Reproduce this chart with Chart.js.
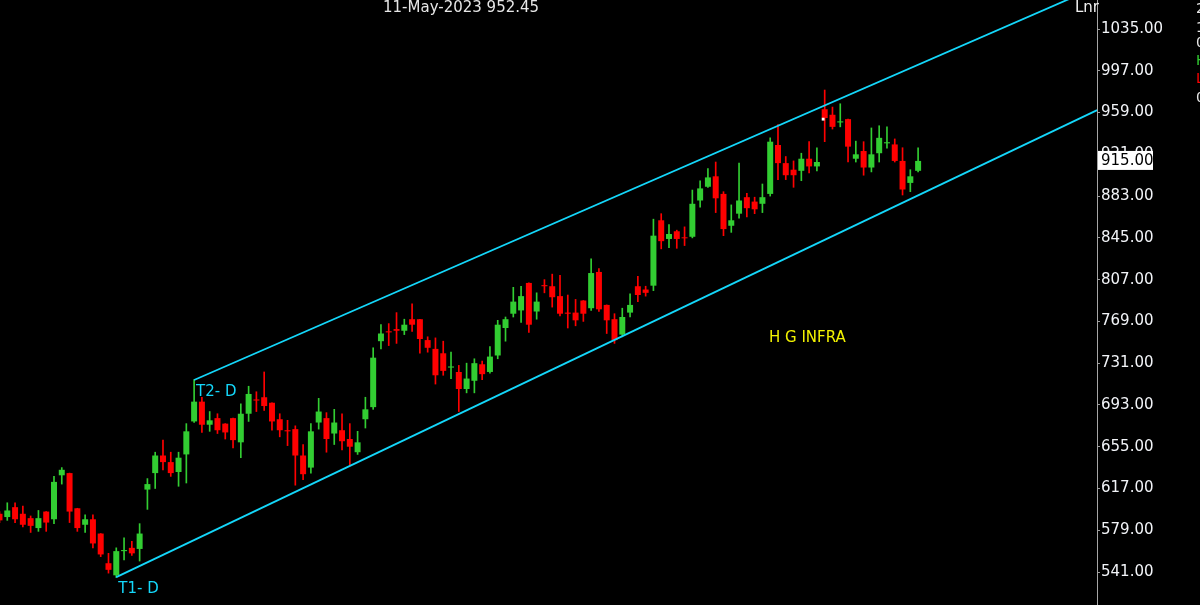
<!DOCTYPE html>
<html>
<head>
<meta charset="utf-8">
<script src="https://cdn.jsdelivr.net/npm/chart.js@4.4.0/dist/chart.umd.min.js"></script>
<style>
  html, body { margin: 0; padding: 0; background: #000; overflow: hidden; }
</style>
</head>
<body>
<canvas id="grafico" width="1200" height="605"></canvas>
<script>
// daily candles, oldest first
const opens  = [594,591,600,594,590,581,596,589,629,631,599,584,589,576,549,538,560,563,562,616,
                631,647,641,632,648,678,696,675,681,676,681,659,685,698,700,695,680,670,671,647,
                636,677,681,667,670,662,650,680,691,751,760,762,760.5,771,771,752,744,740,727,723,
                707.5,715,730,723,738,763,776,779,804,778,802,801,792,777,777,788,781,814,784,771,
                757,777,801,798,801.5,861,844,851,845.5,846,879,891.5,901,885,856,867,882,878,876,885,
                929.5,913,907,906,917,910,962,957,950,953,917,924,909,922,931,930,915,895,906];
const highs  = [596,604,604,601,592,597,596,628,636,631,599,593,593,576,558,563,572,569,585,626,
                650,661,650,650,676,716,700,687,685,676,681,694,710,705,723,695,685,679,674,657,
                676,699,686,689,685,676,669,700,745,766,767,777,771,785,771,755,754,751,741,729,
                731,735,733,746,770,773,800,801,804,795,807,812,811,793,789,788,826,817,784,776,
                781,794,810,801,862,867,857,852,855,888.5,897,908,914,887,875,913,885.5,882,894,936,
                948,919,915,922,932.5,927,979.5,964,967,953,933,932.5,945,947,946,935,927,907,927];
const lows   = [586,588,586,582,577,578,578,585,621,586,578,577,563,555,540,536,552,556,551,598,
                617,634,628,619,622,677,668,669,667,662,654,645,678,687,688,670,664,656,620,625,
                631,671,650,657,652,638,648,672,689,744,747,749,757,760,740,741,712,720,717,687,
                704,704,716,722,735,751,773,768,759,771,795,782,774,763,765,769,779,778,758,749,
                755,773,787,792,797,835,836,835.5,838,845,873,891,868,847,850,863,864,867,868,883,
                898,898,891,897,904,906,932.5,944,946,914,914,902,905,914,926.5,914,884,887,905];
const closes = [588,597,589,584,583,590,586,623,634,596,581,589,567,557,543,560,561,558,576,621,
                647,641,631,645,669,696,675,679,670,668,661,685,703,697,692,678,670,669,647,630,
                669,687,662,677,660,655,659,689,736,758,759,760.5,766,766,753,745,720,724,728,707.5,
                717,731,721,737,766,771,787,792,766,787,801,791,776,776,770,776,813,780,770,752,
                773,784,793,795,847,842,848.5,844,844.6,876,890,900,881,853,861,879,872,871,882,932.5,
                913,902,902,917,910,914,954,946,951,928,921,909,921,936,932,915,889,901,915];

// trend channel, drawn from the two touch points (T1 low, T2 high)
const upperLineX = [25, 141];
const upperLineY = [715.7, 1073.4];
const lowerLineX = [15, 141];
const lowerLineY = [536.4, 961.2];

// white marker near the top candle
const markerX = [105.8];
const markerY = [953];

const yTicks = [541, 579, 617, 655, 693, 731, 769, 807, 845, 883, 921, 959, 997, 1035];
const lastPrice = 915;

const VERDE = 'rgb(50,205,50)';
const VERMELHO = 'rgb(255,0,0)';
const CIANO = 'rgb(20,215,250)';

const indices = closes.map((_, i) => i);
const corCandle = ctx => {
    const i = ctx.dataIndex;
    return closes[i] >= opens[i] ? VERDE : VERMELHO;
};

const textos = {
    id: 'textos',
    afterDatasetsDraw(chart) {
        const c = chart.ctx;
        const sx = chart.scales.x, sy = chart.scales.y;
        c.save();
        c.font = '15px "DejaVu Sans"';
        c.textBaseline = 'alphabetic';
        c.textAlign = 'left';

        c.fillStyle = '#e6e6e6';
        c.fillText('11-May-2023 952.45', 383, 12);
        c.fillStyle = '#f0f0f0';
        c.fillText('Lnr', 1075, 12);

        c.fillStyle = CIANO;
        c.fillText('T2- D', sx.getPixelForValue(upperLineX[0]) + 2, sy.getPixelForValue(upperLineY[0]) + 16);
        c.fillText('T1- D', sx.getPixelForValue(lowerLineX[0]) + 2, sy.getPixelForValue(lowerLineY[0]) + 16);

        c.fillStyle = '#f2f200';
        c.fillText('H G INFRA', 769, 342);

        // last price box on the axis
        const yp = sy.getPixelForValue(lastPrice);
        c.fillStyle = '#ffffff';
        c.fillRect(1098, yp - 10, 55, 19);
        c.fillStyle = '#000000';
        c.textBaseline = 'middle';
        c.fillText(lastPrice.toFixed(2), 1101, yp + 0.5);

        // legend column cut off at the right edge
        c.font = '14px "DejaVu Sans"';
        c.textBaseline = 'alphabetic';
        const col = [['2', 13, '#e6e6e6'], ['1', 32, '#e6e6e6'], ['0', 47, '#e6e6e6'],
                     ['H', 65, VERDE], ['L', 83, VERMELHO], ['0', 102, '#e6e6e6']];
        col.forEach(([t, y, cor]) => { c.fillStyle = cor; c.fillText(t, 1196, y); });
        c.restore();
    }
};

Chart.defaults.font.family = '"DejaVu Sans", Verdana, sans-serif';

new Chart(document.getElementById('grafico').getContext('2d'), {
    type: 'bar',
    data: {
        datasets: [
            {
                label: 'pavio',
                data: indices.map(i => ({ x: i, y: [lows[i], highs[i]] })),
                backgroundColor: corCandle,
                barThickness: 1,
                grouped: false,
                order: 3
            },
            {
                label: 'corpo',
                data: indices.map(i => ({ x: i, y: [opens[i], closes[i]] })),
                backgroundColor: corCandle,
                categoryPercentage: 1,
                barPercentage: 0.77,
                minBarLength: 1,
                grouped: false,
                order: 2
            },
            {
                type: 'line',
                label: 'canal superior',
                data: upperLineX.map((x, k) => ({ x, y: upperLineY[k] })),
                borderColor: CIANO,
                borderWidth: 1.8,
                pointRadius: 0,
                fill: false,
                order: 1
            },
            {
                type: 'line',
                label: 'canal inferior',
                data: lowerLineX.map((x, k) => ({ x, y: lowerLineY[k] })),
                borderColor: CIANO,
                borderWidth: 1.8,
                pointRadius: 0,
                fill: false,
                order: 1
            },
            {
                type: 'line',
                label: 'marcador',
                data: markerX.map((x, k) => ({ x, y: markerY[k] })),
                showLine: false,
                pointStyle: 'rect',
                pointRadius: 2,
                pointBackgroundColor: '#ffffff',
                pointBorderWidth: 0,
                order: 0
            }
        ]
    },
    options: {
        responsive: false,
        animation: false,
        devicePixelRatio: 1,
        layout: { padding: 0, autoPadding: false },
        plugins: { legend: { display: false }, tooltip: { enabled: false } },
        scales: {
            x: {
                type: 'linear',
                display: false,
                offset: false,
                min: 0.0642,
                max: 140.98
            },
            y: {
                position: 'right',
                min: 511,
                max: 1061.4,
                beginAtZero: false,
                afterFit: s => { s.width = 103; s.paddingTop = 0; s.paddingBottom = 0; },
                afterBuildTicks: s => { s.ticks = yTicks.map(v => ({ value: v })); },
                grid: {
                    display: true,
                    drawOnChartArea: false,
                    drawTicks: true,
                    tickLength: 3,
                    color: '#9a9a9a'
                },
                border: { display: true, color: '#a6a6a6', width: 1 },
                ticks: {
                    color: '#f2f4f8',
                    padding: 1,
                    font: { size: 15 },
                    callback: v => Number(v).toFixed(2)
                }
            }
        }
    },
    plugins: [textos]
});
</script>
</body>
</html>
